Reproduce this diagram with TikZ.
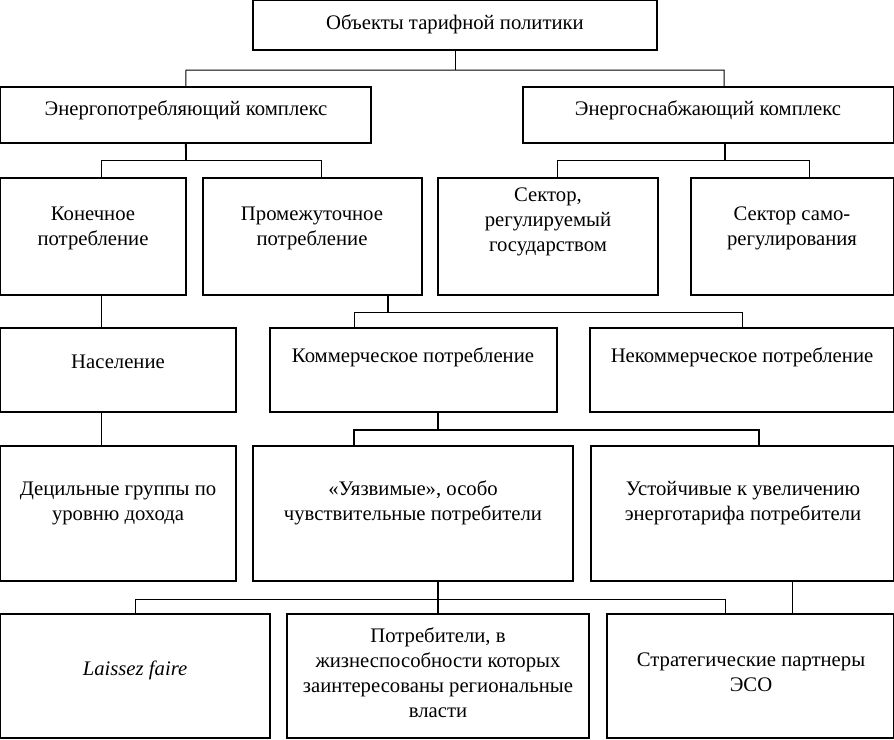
\documentclass[tikz,border=0pt]{standalone}
\usepackage{fontspec}
\setmainfont{Liberation Serif}
\begin{document}
\begin{tikzpicture}[x=1pt,y=-1pt,
  box/.style={draw,line width=1.3pt,inner sep=0pt,outer sep=0pt,anchor=north west},
  txt/.style={align=center,inner sep=0pt,font=\fontsize{20.7}{25}\selectfont},
  conn/.style={line width=1pt},
  connb/.style={line width=1.8pt}]
\useasboundingbox (0,0) rectangle (894,739);
% boxes
\newcommand{\mkbox}[5]{\node[box,minimum width=#4-#2,minimum height=#5-#3] (#1) at (#2,#3) {};}
\mkbox{top}{253}{0.7}{657}{50}
\mkbox{econ}{0.7}{87}{371}{143}
\mkbox{esup}{523}{87}{893.3}{143}
\mkbox{kon}{0.7}{178}{186}{295}
\mkbox{prom}{203}{178}{422}{295}
\mkbox{sreg}{438}{178}{658}{295}
\mkbox{ssam}{691}{178}{893.3}{295}
\mkbox{nas}{0.7}{328}{236}{412}
\mkbox{kom}{270}{328}{557}{412}
\mkbox{nekom}{590}{328}{893.3}{412}
\mkbox{dec}{0.7}{446}{236}{581}
\mkbox{uyaz}{253}{446}{573}{581}
\mkbox{ust}{591}{446}{893.3}{581}
\mkbox{lais}{0.7}{614}{270}{738}
\mkbox{potr}{287}{614}{589}{738}
\mkbox{strat}{607}{614}{893.3}{738}
% texts
\node[txt] (ttop) at (455,24) {Объекты тарифной политики};
\node[txt] (tecon) at (186,110) {Энергопотребляющий комплекс};
\node[txt] (tesup) at (708,110) {Энергоснабжающий комплекс};
\node[txt] (tkon) at (93,228) {Конечное\\потребление};
\node[txt] (tprom) at (312,228) {Промежуточное\\потребление};
\node[txt] (tsreg) at (548,222) {Сектор,\\регулируемый\\государством};
\node[txt] (tssam) at (792,228) {Сектор само-\\регулирования};
\node[txt] (tnas) at (118,362) {Население};
\node[txt] (tkom) at (413,357) {Коммерческое потребление};
\node[txt] (tnekom) at (742,357) {Некоммерческое потребление};
\node[txt] (tdec) at (118,503) {Децильные группы по\\уровню дохода};
\node[txt] (tuyaz) at (413,503) {«Уязвимые», особо\\чувствительные потребители};
\node[txt] (tust) at (743,503) {Устойчивые к увеличению\\энерготарифа потребители};
\node[txt] (tlais) at (135,670) {\itshape Laissez faire};
\node[txt] (tpotr) at (438,673) {Потребители, в\\жизнеспособности которых\\заинтересованы региональные\\власти};
\node[txt] (tstrat) at (751,672) {Стратегические партнеры\\ЭСО};
% connectors
\coordinate (j0) at (455,70);
\draw[conn] (top.south) -- (j0);
\draw[conn] (econ.north) -- (186,70) -- (724,70) -- (esup.north -| 724,0);
\coordinate (j1) at (186,160);
\draw[connb] (econ.south) -- (j1);
\draw[conn] (kon.north -| 101.5,0) -- (101.5,160) -- (321,160) -- (prom.north -| 321,0);
\coordinate (j2) at (725,160);
\draw[connb] (esup.south -| 725,0) -- (j2);
\draw[conn] (sreg.north -| 557,0) -- (557,160) -- (809,160) -- (ssam.north -| 809,0);
\draw[conn] (kon.south -| 101.5,0) -- (nas.north -| 101.5,0);
\coordinate (j3) at (388,312);
\draw[connb] (prom.south -| 388,0) -- (j3);
\draw[conn] (kom.north -| 354,0) -- (354,312) -- (742,312) -- (nekom.north -| 742,0);
\draw[conn] (nas.south -| 101.5,0) -- (dec.north -| 101.5,0);
\coordinate (j4) at (438,430);
\draw[connb] (kom.south -| 438,0) -- (j4);
\draw[connb] (uyaz.north -| 354,0) -- (354,430) -- (759,430) -- (ust.north -| 759,0);
\draw[connb] (uyaz.south -| 438,0) -- (potr.north -| 438,0);
\draw[conn] (lais.north -| 135,0) -- (135,599) -- (725,599) -- (strat.north -| 725,0);
\draw[conn] (ust.south -| 792,0) -- (strat.north -| 792,0);
\end{tikzpicture}
\end{document}
